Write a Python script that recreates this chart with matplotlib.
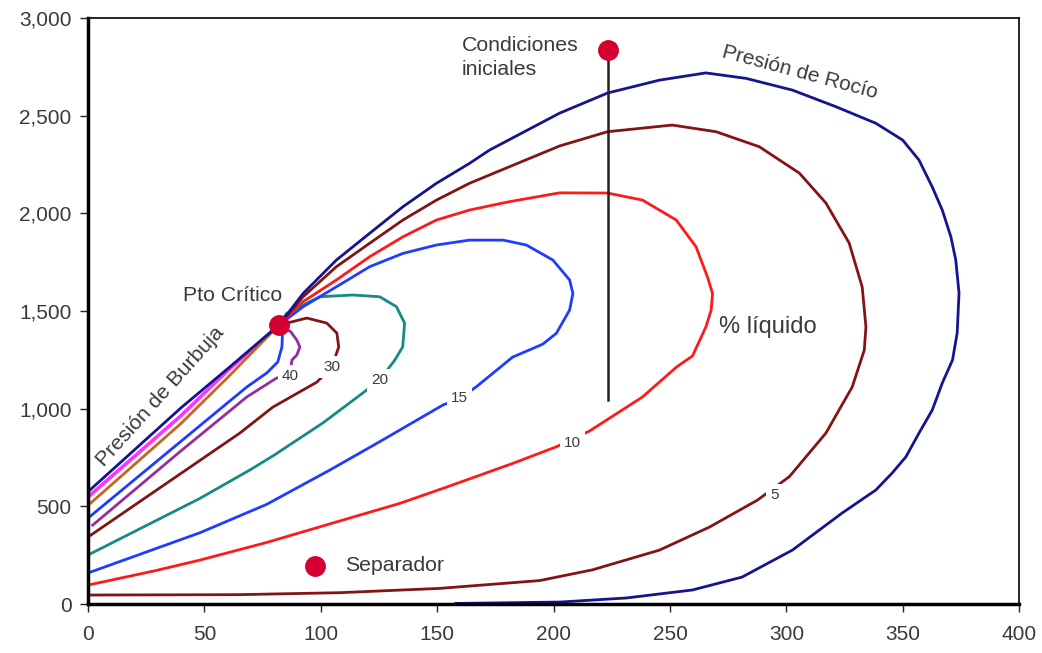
import matplotlib
matplotlib.use("Agg")
import matplotlib.pyplot as plt
from matplotlib.ticker import FuncFormatter

plt.rcParams['font.family'] = ['Liberation Sans', 'DejaVu Sans']

# punto critico (temperatura, presion)
crit = (82, 1428)

# envolvente: burbuja + rocio
env_x = [0, 20, 40, 60, 82, 92.4, 106.7, 121, 135.3, 149.7, 163.9, 172.5, 202.6, 223.2, 245.5,
         265.4, 282.7, 302.6, 321.3, 338.5, 350, 357, 362.7, 367, 370.7, 372.8, 374.2, 373.4,
         371.4, 367, 362.7, 357, 351.4, 345.5, 338.5, 324, 302.6, 281, 259.7, 231.3, 202.6, 158]
env_y = [575, 790, 1005, 1205, 1428, 1590, 1761, 1898, 2034, 2154, 2256, 2324, 2513, 2616, 2682,
         2719, 2691, 2631, 2546, 2461, 2375, 2273, 2135, 2017, 1880, 1761, 1592, 1387,
         1249, 1131, 993, 875, 754, 671, 584, 466, 276, 138, 72, 31, 10, 3]

# lineas de calidad (% liquido)
q5_x = [82, 92.4, 106.7, 121, 135.3, 149.7, 163.9, 181.1, 202.6, 223.2, 251, 269.8, 288.4, 305.6,
        317, 327, 332.6, 334.2, 333.5, 328.3, 317, 301.3, 287.6, 267, 245.5, 216.7, 194, 151,
        108, 65, 0]
q5_y = [1428, 1573, 1727, 1847, 1966, 2068, 2154, 2239, 2345, 2418, 2452, 2418, 2341, 2206,
        2053, 1848, 1623, 1419, 1300, 1111, 875, 652, 532, 394, 276, 175, 120, 80,
        58, 48, 46]

q10_x = [82, 92.4, 106.7, 121, 135.3, 149.7, 163.9, 181.1, 202.6, 223.2, 238.2, 252.7, 261.2,
         266.1, 268.3, 267.7, 265.5, 259.7, 252.8, 238.2, 215.5, 201.2, 182.5, 153.9, 133.9,
         112.4, 96.7, 76.7, 48.1, 28.6, 0]
q10_y = [1428, 1548, 1659, 1778, 1880, 1966, 2017, 2060, 2105, 2104, 2068, 1966, 1829,
         1675, 1590, 1505, 1420, 1270, 1213, 1060, 886, 805, 720, 598, 515,
         440, 385, 315, 225, 170, 97]

q15_x = [82, 92.4, 106.7, 121, 135.3, 149.7, 163.9, 178.3, 188.3, 199.7, 206.9, 208.3, 206.9,
         201.2, 195.3, 182.4, 166.8, 159.7, 152.5, 125.3, 103.9, 76.7, 48.1, 0]
q15_y = [1428, 1522, 1624, 1727, 1795, 1838, 1863, 1863, 1838, 1761, 1659, 1590, 1505,
         1386, 1330, 1264, 1112, 1053, 1019, 831, 686, 510, 365, 159]

q20_x = [82, 85.3, 99.6, 113.8, 125.3, 132.5, 136, 135.2, 131.8, 125.3, 118, 100.9, 79.4,
         69.5, 48.1, 0]
q20_y = [1428, 1488, 1573, 1582, 1573, 1522, 1438, 1317, 1249, 1147, 1080, 927, 758,
         686, 541, 251]

q30_x = [82, 94, 102.6, 106.9, 107.7, 104.7, 98.3, 79.4, 65.2, 0]
q30_y = [1428, 1464, 1438, 1387, 1316, 1213, 1136, 1008, 875, 343]

q40_x = [82, 87, 89.7, 91, 89.7, 87.6, 86.7, 81, 68.2, 39.5, 2]
q40_y = [1428, 1395, 1351, 1316, 1275, 1249, 1167, 1157, 1060, 780, 404]

q50_x = [82, 83.5, 83.3, 81.5, 76.8, 68.2, 39.5, 0]
q50_y = [1428, 1377, 1316, 1239, 1183, 1111, 829, 440]

q_or_x = [82, 60, 40, 0]
q_or_y = [1428, 1160, 925, 505]

q_mg_x = [82, 60, 40, 0]
q_mg_y = [1428, 1195, 965, 548]

# etiquetas de las curvas
lab_txt = ['40', '30', '20', '15', '10', '5']
lab_x = [86.7, 104.7, 125.3, 159.7, 208.2, 294.8]
lab_y = [1167, 1213, 1147, 1054, 824, 558]

# condiciones iniciales y separador
ini = (223.6, 2836)
ini_bottom = 1044
sep = (97.4, 195)

txt_col = '#3a3a3a'

fig = plt.figure(figsize=(10.42, 6.53), dpi=100)
ax = fig.add_axes([0.0845, 0.075, 0.8935, 0.8974])

lw = 2.0
ax.plot(q_mg_x, q_mg_y, color='#ff33ff', lw=2.6)
ax.plot(q_or_x, q_or_y, color='#c8641e', lw=lw)
ax.plot(q50_x, q50_y, color='#1f3cff', lw=lw)
ax.plot(q40_x, q40_y, color='#962d9e', lw=lw)
ax.plot(q30_x, q30_y, color='#821414', lw=lw)
ax.plot(q20_x, q20_y, color='#148c82', lw=lw)
ax.plot(q15_x, q15_y, color='#1f3cff', lw=lw)
ax.plot(q10_x, q10_y, color='#ff1a1a', lw=lw)
ax.plot(q5_x, q5_y, color='#821414', lw=lw)
ax.plot(env_x, env_y, color='#14148c', lw=lw)

ax.plot([ini[0], ini[0]], [ini[1], ini_bottom], color='#222222', lw=1.8)

for t, x, y in zip(lab_txt, lab_x, lab_y):
    ax.text(x, y, t, fontsize=11, color=txt_col, ha='center', va='center', zorder=5,
            bbox=dict(boxstyle='square,pad=0.25', fc='white', ec='none'))

ax.plot([crit[0], ini[0], sep[0]], [crit[1], ini[1], sep[1]], 'o', color='#d40030',
        markersize=14, zorder=6)

ax.text(160.5, 2797, 'Condiciones\niniciales', fontsize=15.3, color=txt_col, ha='left',
        va='center', linespacing=1.35)
ax.text(40.8, 1577, 'Pto Crítico', fontsize=15.3, color=txt_col, ha='left', va='center')
ax.text(30.9, 1060, 'Presión de Burbuja', fontsize=15.3, color=txt_col, ha='center',
        va='center', rotation=48, rotation_mode='anchor')
ax.text(305.6, 2723, 'Presión de Rocío', fontsize=15, color=txt_col, ha='center',
        va='center', rotation=-15, rotation_mode='anchor')
ax.text(271.2, 1418, '% líquido', fontsize=17, color=txt_col, ha='left', va='center')
ax.text(110.3, 195, 'Separador', fontsize=15.3, color=txt_col, ha='left', va='center')

ax.set_xlim(0, 400)
ax.set_ylim(0, 3000)
ax.set_xticks(range(0, 401, 50))
ax.set_yticks(range(0, 3001, 500))
ax.yaxis.set_major_formatter(FuncFormatter(lambda v, p: f'{int(v):,}'))
ax.tick_params(direction='out', length=6, width=1, labelsize=15, colors='#222222',
               labelcolor=txt_col)
ax.tick_params(axis='x', pad=9)
ax.tick_params(axis='y', pad=6)

ax.spines['left'].set_linewidth(2.5)
ax.spines['bottom'].set_linewidth(2.5)
ax.spines['top'].set_linewidth(1.2)
ax.spines['right'].set_linewidth(1.2)

fig.savefig('out.png', dpi=100)
